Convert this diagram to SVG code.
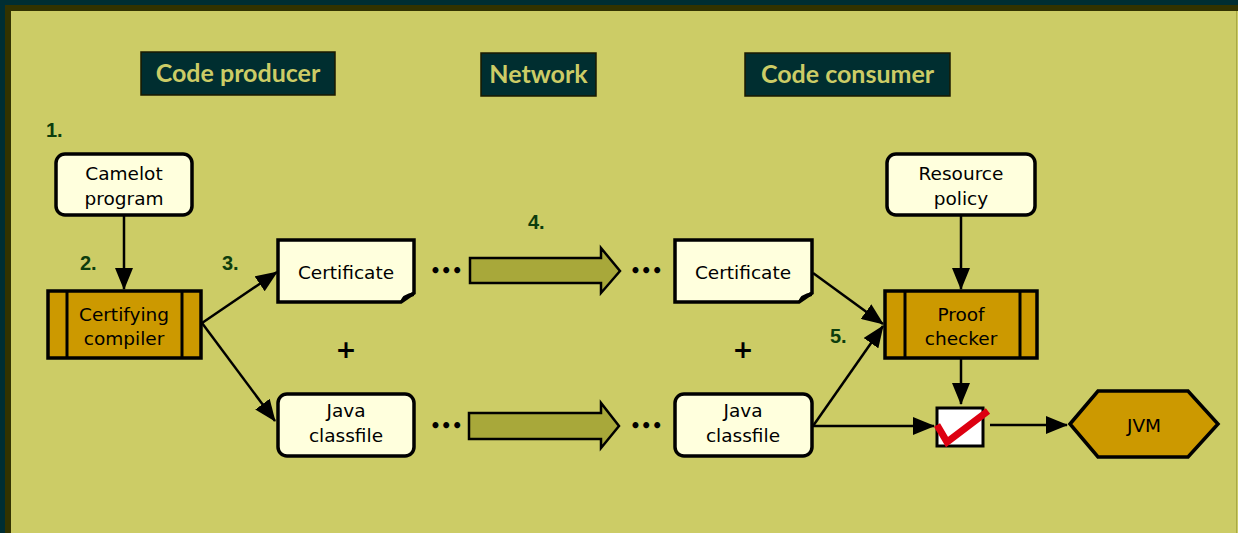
<svg xmlns="http://www.w3.org/2000/svg" width="1238" height="533" viewBox="0 0 1238 533">
<style>
.hdr{fill:#002e30;stroke:#1a1a00;stroke-width:1.5}
.hdrt{font-family:Lato,"Open Sans",sans-serif;font-weight:bold;font-size:25px;fill:#cccc66;text-anchor:middle}
.num{font-family:"Liberation Sans",Arial,sans-serif;font-weight:bold;font-size:20px;fill:#0d3d0d}
.box{fill:#ffffdd;stroke:#000;stroke-width:3.5}
.proc{fill:#cc9900;stroke:#000;stroke-width:3.5}
.t{font-family:"DejaVu Sans",sans-serif;font-size:18.5px;fill:#000;text-anchor:middle}
.dots{font-family:"DejaVu Sans",sans-serif;font-weight:bold;font-size:17px;fill:#000}
.plus{font-family:"DejaVu Sans",sans-serif;font-weight:bold;font-size:25px;fill:#000;text-anchor:middle}
.con{stroke:#000;stroke-width:2.5;fill:none}
.big{fill:#a8a83a;stroke:#000;stroke-width:2.5}
</style>
<defs>
<marker id="ah2" markerWidth="22" markerHeight="18" refX="21" refY="9" orient="auto" markerUnits="userSpaceOnUse" viewBox="0 0 22 18">
<path d="M0,0 L22,9 L0,18 Z" fill="#000"/>
</marker>
</defs>
<rect x="0" y="0" width="1238" height="533" fill="#002e33"/>
<rect x="5" y="5" width="1233" height="528" fill="#333300"/>
<rect x="11" y="11" width="1227" height="522" fill="#cccc66"/>
<line x1="1236.5" y1="11" x2="1236.5" y2="533" stroke="#aaaa44" stroke-width="1"/>

<g id="hdr-producer"><rect class="hdr" x="141" y="52" width="194" height="43"/><text class="hdrt" x="238" y="82">Code producer</text></g>
<g id="hdr-network"><rect class="hdr" x="481" y="53" width="115" height="43"/><text class="hdrt" x="538.5" y="83">Network</text></g>
<g id="hdr-consumer"><rect class="hdr" x="745" y="53" width="205" height="43"/><text class="hdrt" x="847.5" y="83">Code consumer</text></g>

<g id="labels">
<text class="num" x="46" y="137">1.</text>
<text class="num" x="80" y="270">2.</text>
<text class="num" x="222" y="270">3.</text>
<text class="num" x="528" y="229">4.</text>
<text class="num" x="830" y="343">5.</text>
</g>

<g id="connectors">
<line class="con" x1="124" y1="216" x2="124" y2="289" marker-end="url(#ah2)"/>
<line class="con" x1="202" y1="323" x2="277" y2="272" marker-end="url(#ah2)"/>
<line class="con" x1="202" y1="323" x2="275" y2="421" marker-end="url(#ah2)"/>
<line class="con" x1="813" y1="273" x2="883" y2="324" marker-end="url(#ah2)"/>
<line class="con" x1="813" y1="426" x2="883" y2="326" marker-end="url(#ah2)"/>
<line class="con" x1="813" y1="426" x2="934" y2="426" marker-end="url(#ah2)"/>
<line class="con" x1="961" y1="216" x2="961" y2="289" marker-end="url(#ah2)"/>
<line class="con" x1="961" y1="359" x2="961" y2="404" marker-end="url(#ah2)"/>
<line class="con" x1="990" y1="425" x2="1067" y2="425" marker-end="url(#ah2)"/>
<path class="big" d="M470,258 H601 V248 L620,271 L601,293 V283 H470 Z"/>
<path class="big" d="M469,413 H601 V403 L619,426 L601,448 V439 H469 Z"/>
</g>

<g id="camelot"><rect class="box" x="56" y="154" width="136" height="61" rx="9"/><text class="t" x="124" y="180">Camelot</text><text class="t" x="124" y="205">program</text></g>

<g id="compiler"><rect class="proc" x="48" y="291" width="153" height="67"/><line x1="67" y1="291" x2="67" y2="358" stroke="#000" stroke-width="3"/><line x1="182" y1="291" x2="182" y2="358" stroke="#000" stroke-width="3"/><text class="t" x="124" y="321">Certifying</text><text class="t" x="124" y="345">compiler</text></g>

<g id="cert-left"><path class="box" d="M278,240 H414 V293 L401,302 H278 Z"/><path d="M400,302 Q402,294 414,292 L414,296 Q405,298 400,302 Z" fill="#000"/><text class="t" x="346" y="279">Certificate</text></g>

<g id="java-left"><rect class="box" x="278" y="394" width="136" height="62" rx="9"/><text class="t" x="346" y="417">Java</text><text class="t" x="346" y="442">classfile</text></g>

<g id="cert-right"><path class="box" d="M675,240 H812 V293 L799,302 H675 Z"/><path d="M798,302 Q800,294 812,292 L812,296 Q803,298 798,302 Z" fill="#000"/><text class="t" x="743" y="279">Certificate</text></g>

<g id="java-right"><rect class="box" x="675" y="394" width="137" height="62" rx="9"/><text class="t" x="743" y="417">Java</text><text class="t" x="743" y="442">classfile</text></g>

<g id="dots">
<text class="dots" x="430" y="277">•••</text>
<text class="dots" x="430" y="432">•••</text>
<text class="dots" x="630" y="277">•••</text>
<text class="dots" x="630" y="432">•••</text>
<text class="plus" x="346" y="358">+</text>
<text class="plus" x="743" y="358">+</text>
</g>

<g id="resource"><rect class="box" x="887" y="154" width="148" height="61" rx="9"/><text class="t" x="961" y="180">Resource</text><text class="t" x="961" y="205">policy</text></g>

<g id="checker"><rect class="proc" x="885" y="291" width="152" height="67"/><line x1="905" y1="291" x2="905" y2="358" stroke="#000" stroke-width="3"/><line x1="1020" y1="291" x2="1020" y2="358" stroke="#000" stroke-width="3"/><text class="t" x="961" y="321">Proof</text><text class="t" x="961" y="345">checker</text></g>

<g id="checkbox"><rect x="937" y="408" width="46" height="38" fill="#fff" stroke="#000" stroke-width="3"/><path d="M937,425 L947,442 L988,411" fill="none" stroke="#dd0011" stroke-width="7"/></g>

<g id="jvm"><path class="proc" d="M1070,424 L1098,391 H1188 L1218,424 L1188,457 H1098 Z"/><text class="t" x="1144" y="432">JVM</text></g>
</svg>
